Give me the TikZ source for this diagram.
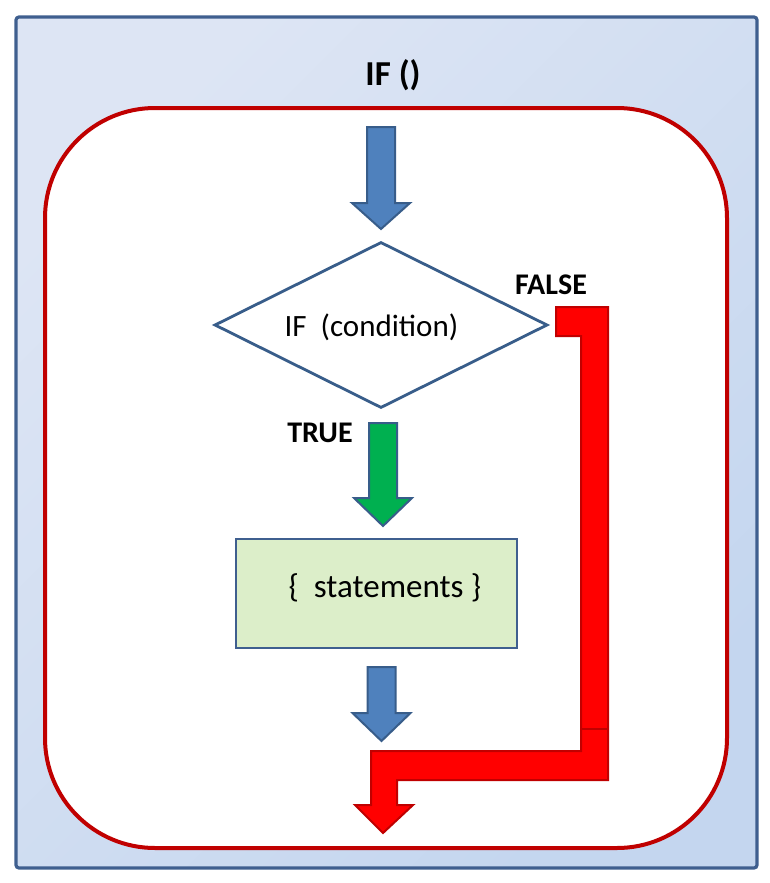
\documentclass[tikz,border=0pt]{standalone}
\usepackage{fontspec}
\setmainfont{Carlito}
\usetikzlibrary{shapes.geometric}

\definecolor{framblue}{RGB}{63,95,143}
\definecolor{arrblue}{RGB}{79,129,189}
\definecolor{arredge}{RGB}{56,93,138}
\definecolor{arrgreen}{RGB}{0,176,80}
\definecolor{darkred}{RGB}{192,0,0}
\definecolor{boxgreen}{RGB}{220,238,201}
\definecolor{bgtop}{RGB}{221,229,244}
\definecolor{bgbot}{RGB}{196,214,239}

\tikzset{
  labeltext/.style={font=\fontsize{30}{36}\selectfont\bfseries},
  bodytext/.style={font=\fontsize{31}{37}\selectfont},
  condshape/.style={diamond,draw=arredge,line width=2.8pt,fill=white,
    aspect=2,inner sep=0pt,minimum width=333pt,minimum height=166pt},
  stmtbox/.style={rectangle,draw=framblue,line width=2.8pt,fill=boxgreen,
    inner sep=0pt,minimum width=281pt,minimum height=109pt}
}

% fill, edge, x, top, head, tip
\newcommand{\blockarrow}[6]{%
  \filldraw[fill=#1,draw=#2,line width=2pt,line join=miter]
    (#3-14,#4) -- (#3+14,#4) -- (#3+14,#5) -- (#3+29,#5) -- (#3,#6)
    -- (#3-29,#5) -- (#3-14,#5) -- cycle;}

\begin{document}
\begin{tikzpicture}[x=1pt,y=-1pt]
  \useasboundingbox (0,0) rectangle (769,883);

  % outer frame
  \shade[top color=bgtop,bottom color=bgbot,shading angle=45,rounded corners=3pt]
    (16,17) rectangle (757,868);
  \draw[framblue,line width=3.2pt,rounded corners=3pt] (16,17) rectangle (757,868);
  \node[font=\fontsize{35}{42}\selectfont\bfseries] (title) at (393,75) {IF ()};

  % inner frame
  \draw[darkred,fill=white,line width=4pt,rounded corners=110pt]
    (45,108) rectangle (727,848);

  \blockarrow{arrblue}{arredge}{381}{127}{203}{229}

  \node[condshape] (cond) at (381,325) {};
  \node[bodytext] (condtext) at (371.5,327) {IF\ \ (condition)};

  \node[labeltext] (true) at (320,433) {TRUE};
  \node[labeltext] (false) at (551,285) {FALSE};

  \blockarrow{arrgreen}{arredge}{383}{423}{498}{526}

  \node[stmtbox] (stmts) at (376.5,593.5) {};
  \node[bodytext,font=\fontsize{33}{39}\selectfont] (stmtstext) at (385,588)
    {\{\ \ statements \}};

  \blockarrow{arrblue}{arredge}{381.5}{667}{713}{741}

  % false path
  \filldraw[fill=red,draw=darkred,line width=2pt,line join=miter]
    (556,307) -- (608,307) -- (608,780) -- (397,780) -- (397,805)
    -- (413,805) -- (383,833) -- (355,805) -- (371,805) -- (371,751)
    -- (581,751) -- (581,336) -- (556,336) -- cycle;
  \draw[darkred,line width=1.5pt] (581,729) -- (608,729);
\end{tikzpicture}
\end{document}
